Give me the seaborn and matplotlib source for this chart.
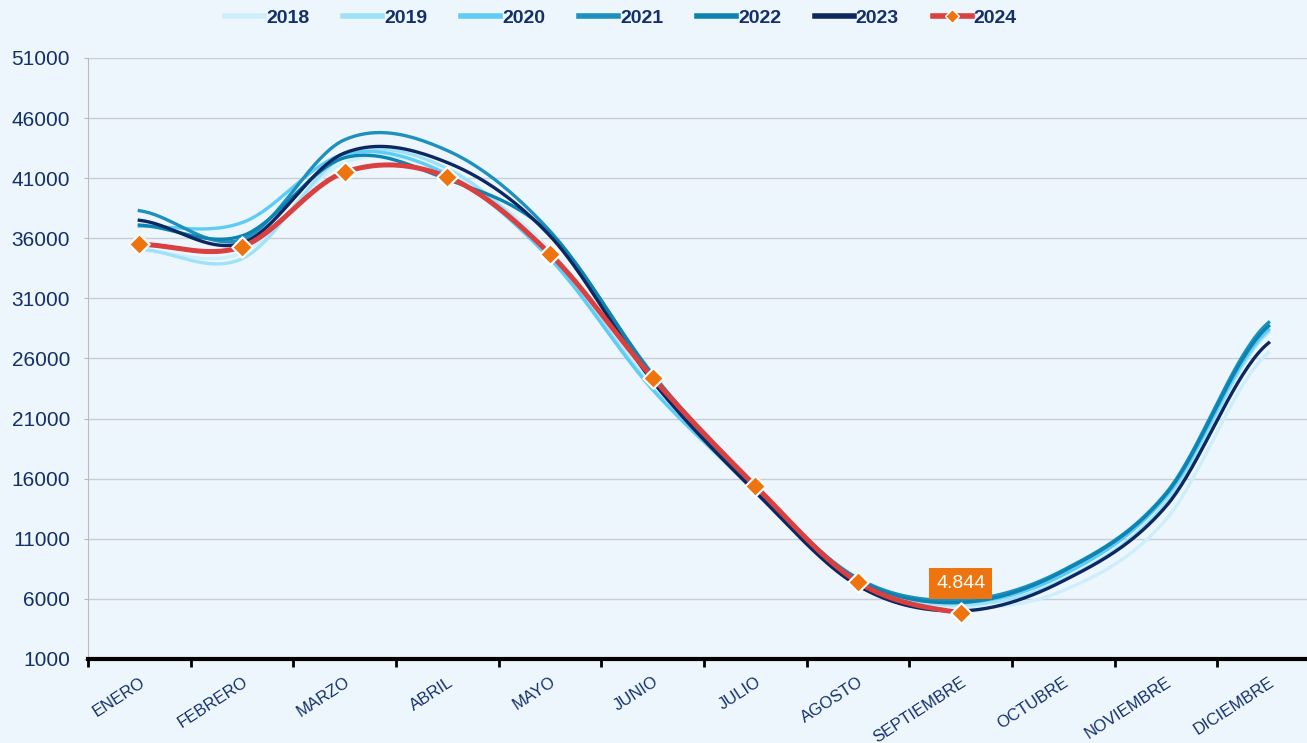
import numpy as np
import pandas as pd
import matplotlib
matplotlib.use("Agg")
import matplotlib.pyplot as plt
from matplotlib.lines import Line2D
import seaborn as sns

# Monthly values
months = ["ENERO", "FEBRERO", "MARZO", "ABRIL", "MAYO", "JUNIO", "JULIO",
          "AGOSTO", "SEPTIEMBRE", "OCTUBRE", "NOVIEMBRE", "DICIEMBRE"]
y2018 = [35000, 34800, 42300, 41500, 35000, 23800, 15000, 7400, 5300, 6700, 12600, 26500]
y2019 = [35100, 34300, 42800, 41800, 34600, 23500, 15000, 7500, 5500, 7600, 14000, 28200]
y2020 = [37000, 37300, 43000, 41300, 34300, 23400, 15200, 7600, 5700, 8000, 14500, 28400]
y2021 = [38300, 35900, 44200, 43300, 36600, 24700, 15300, 7700, 5900, 8400, 14800, 29000]
y2022 = [37100, 36200, 42700, 40900, 36400, 24600, 15100, 7600, 5700, 8300, 14700, 28700]
y2023 = [37500, 35600, 43100, 42300, 36200, 24100, 14900, 7100, 5000, 7500, 13700, 27300]
y2024 = [35500, 35300, 41500, 41100, 34700, 24400, 15400, 7400, 4844]

years = ["2018", "2019", "2020", "2021", "2022", "2023", "2024"]
series = [y2018, y2019, y2020, y2021, y2022, y2023, y2024]
colors = ["#CDEFFC", "#9FE2F8", "#5ECDF5", "#1E90BE", "#0C83B0", "#0D2760", "#D9403F"]
widths = [2.4, 2.4, 2.4, 2.4, 2.4, 2.4, 3.6]

BG = "#EEF6FD"
NAVY = "#13306B"
ORANGE = "#EE7410"


def smooth(vals, n=40):
    # Catmull-Rom style curve through the monthly points (like Excel's smoothed line)
    v = np.asarray(vals, dtype=float)
    k = len(v)
    xs, ys = [], []
    t = np.linspace(0, 1, n, endpoint=False)
    for i in range(k - 1):
        p0 = v[i - 1] if i > 0 else v[i]
        p3 = v[i + 2] if i + 2 < k else v[i + 1]
        m1 = (v[i + 1] - p0) / 2
        m2 = (p3 - v[i]) / 2
        h00 = 2 * t**3 - 3 * t**2 + 1
        h10 = t**3 - 2 * t**2 + t
        h01 = -2 * t**3 + 3 * t**2
        h11 = t**3 - t**2
        xs.extend(i + t)
        ys.extend(h00 * v[i] + h10 * m1 + h01 * v[i + 1] + h11 * m2)
    xs.append(k - 1)
    ys.append(v[-1])
    return np.array(xs), np.array(ys)


plt.rcParams["font.family"] = ["Liberation Sans Narrow", "Liberation Sans", "DejaVu Sans"]

fig = plt.figure(figsize=(13.07, 7.43), dpi=100, facecolor=BG)
ax = fig.add_axes([88 / 1307, 84 / 743, 1232 / 1307, 601 / 743])
ax.set_facecolor(BG)

for yr, vals, c, lw in zip(years, series, colors, widths):
    xs, ys = smooth(vals)
    df = pd.DataFrame({"x": xs, "v": ys})
    sns.lineplot(data=df, x="x", y="v", ax=ax, color=c, linewidth=lw,
                 sort=False, estimator=None, zorder=3 if yr != "2024" else 4)

# 2024 markers
pts = pd.DataFrame({"x": np.arange(len(y2024)), "v": y2024})
sns.scatterplot(data=pts, x="x", y="v", ax=ax, marker="D", s=110,
                color=ORANGE, edgecolor="white", linewidth=1.5, zorder=5)

# Last value label
ax.annotate(f"{y2024[-1]:,}".replace(",", "."), xy=(len(y2024) - 1, y2024[-1]),
            xytext=(0, 21), textcoords="offset points", ha="center", va="center",
            fontsize=14, color="white", family=["Liberation Sans", "DejaVu Sans"],
            bbox=dict(boxstyle="square,pad=0.35", fc=ORANGE, ec="none"), zorder=6)

# Axes
ax.set_xlim(-0.5, 11.5)
ax.set_ylim(1000, 51000)
ax.set_yticks(np.arange(1000, 51001, 5000))
ax.set_yticklabels([str(v) for v in range(1000, 51001, 5000)], fontsize=15, color=NAVY)
ax.grid(axis="y", color="#C9CDD5", linewidth=1)
ax.set_axisbelow(True)

ax.set_xticks(np.arange(-0.5, 12, 1))
ax.set_xticklabels([])
ax.set_xticks(np.arange(12), minor=True)
ax.set_xticklabels(months, minor=True, rotation=33, ha="right",
                   rotation_mode="anchor", fontsize=12, color=NAVY)
ax.tick_params(axis="x", which="major", length=6, width=2, color="black", direction="out")
ax.tick_params(axis="x", which="minor", length=0, pad=11)
ax.tick_params(axis="y", length=3, color="#BBBBBB", pad=10)
ax.set_xlabel("")
ax.set_ylabel("")

for s in ["top", "right"]:
    ax.spines[s].set_visible(False)
ax.spines["left"].set_color("#BBBBBB")
ax.spines["bottom"].set_color("black")
ax.spines["bottom"].set_linewidth(3)

# Legend
handles = []
for yr, c, lw in zip(years, colors, widths):
    if yr == "2024":
        handles.append(Line2D([0], [0], color=c, lw=4, marker="D", markersize=7,
                              markerfacecolor=ORANGE, markeredgecolor="white"))
    else:
        handles.append(Line2D([0], [0], color=c, lw=4))
leg = fig.legend(handles, years, loc="center", bbox_to_anchor=(621 / 1307, 1 - 18 / 743),
                 ncol=7, frameon=False, handlelength=2.0, handletextpad=0.1,
                 columnspacing=1.75, prop={"weight": "bold", "size": 14})
for t in leg.get_texts():
    t.set_color(NAVY)

fig.savefig("out.png", dpi=100, facecolor=BG)
